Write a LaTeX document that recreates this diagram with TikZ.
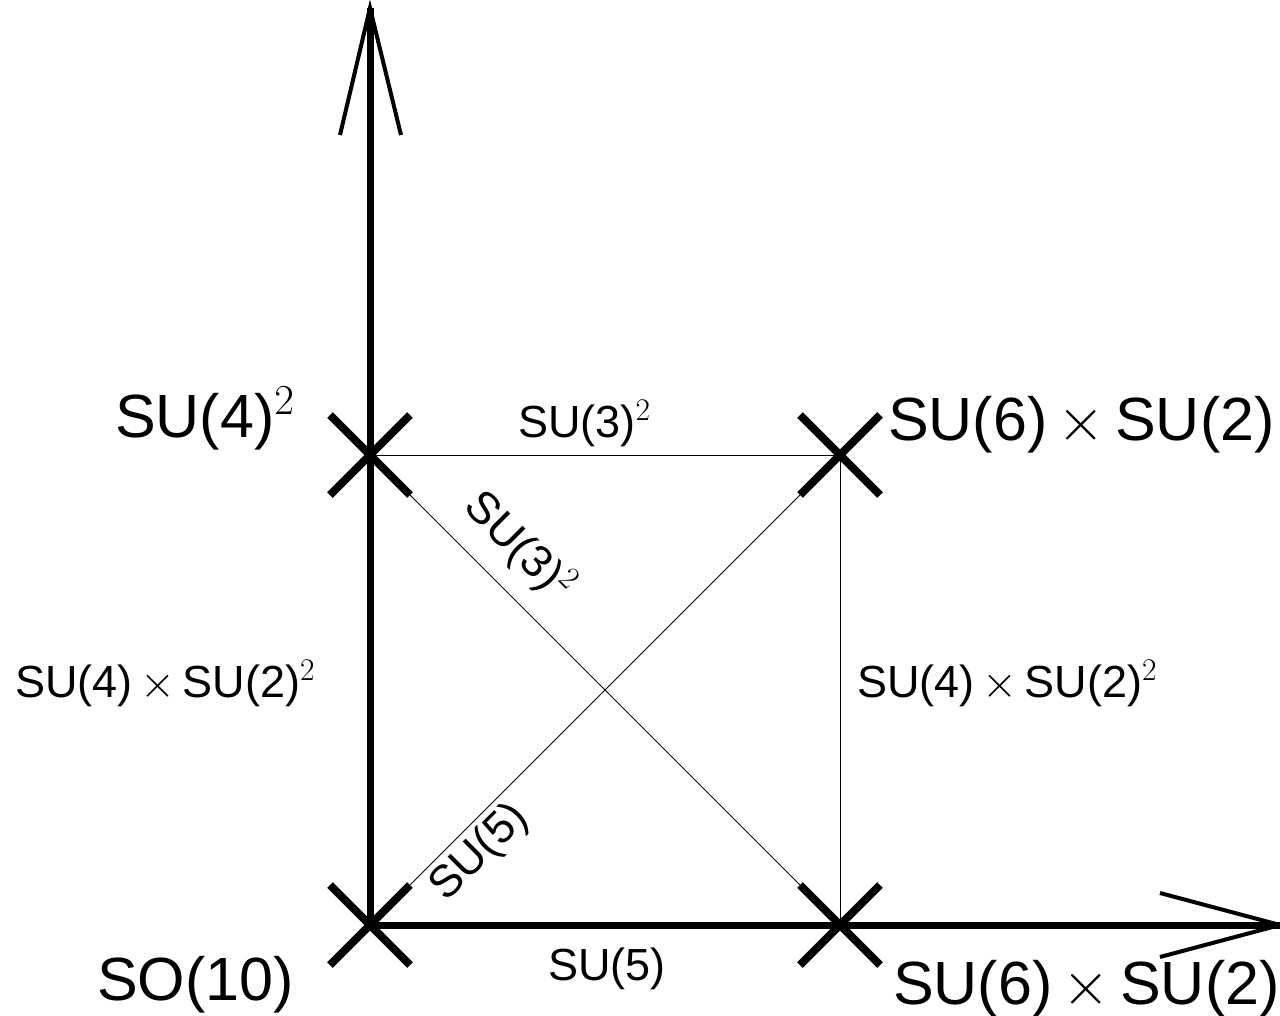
\RequirePackage{fix-cm}
\documentclass[tikz,border=0pt]{standalone}
\usepackage{fontspec}
\setmainfont{Liberation Sans}
\begin{document}
\begin{tikzpicture}[x=1pt,y=-1pt,
  thinline/.style={line width=1pt},
  axis/.style={line width=7pt},
  crossmark/.style={line width=8pt},
  headline/.style={line width=4pt},
  big/.style={font=\fontsize{61}{68}\selectfont, inner sep=0pt},
  small/.style={font=\fontsize{45}{50}\selectfont, inner sep=0pt}]
\useasboundingbox (0,0) rectangle (1280,1015);
% points
\coordinate (O) at (370,925);
\coordinate (A) at (370,455);
\coordinate (B) at (840,455);
\coordinate (C) at (840,925);
\coordinate (ytip) at (370,8);
\coordinate (xtip) at (1280,925);
\coordinate (yl) at (340,135);
\coordinate (yr) at (401,135);
\coordinate (xu) at (1160,893);
\coordinate (xd) at (1160,957);
% thin connectors
\draw[thinline] (A) -- (B);
\draw[thinline] (B) -- (C);
\draw[thinline] (A) -- (C);
\draw[thinline] (O) -- (B);
% axes
\draw[axis] (O) -- (ytip);
\draw[axis] (O) -- (xtip);
\draw[headline] (yl) -- (ytip) -- (yr);
\draw[headline] (xu) -- (xtip) -- (xd);
% crosses
\foreach \p in {O,A,B,C}{
  \draw[crossmark] (\p) ++(-40,-40) -- ++(80,80);
  \draw[crossmark] (\p) ++(-40,40) -- ++(80,-80);
}
% labels
\node[big, anchor=base west] (lA) at (115,437) {SU(4)$^2$};
\node[small, anchor=base west] (lAB) at (518,437) {SU(3)$^2$};
\node[big, anchor=base west] (lB) at (888,440) {SU(6)$\,\times\,$SU(2)};
\node[small, anchor=base west] (lOA) at (15,697) {SU(4)$\,\times\,$SU(2)$^2$};
\node[small, anchor=base west] (lBC) at (857,697) {SU(4)$\,\times\,$SU(2)$^2$};
\node[big, anchor=base west] (lO) at (97,1000) {SO(10)};
\node[small, anchor=base west] (lOC) at (548,980) {SU(5)};
\node[big, anchor=base west] (lC) at (893,1004) {SU(6)$\,\times\,$SU(2)};
\node[small, rotate=-45] (lAC) at (519,546) {SU(3)$^2$};
\node[small, rotate=45] (lOB) at (480,853) {SU(5)};
\end{tikzpicture}
\end{document}
